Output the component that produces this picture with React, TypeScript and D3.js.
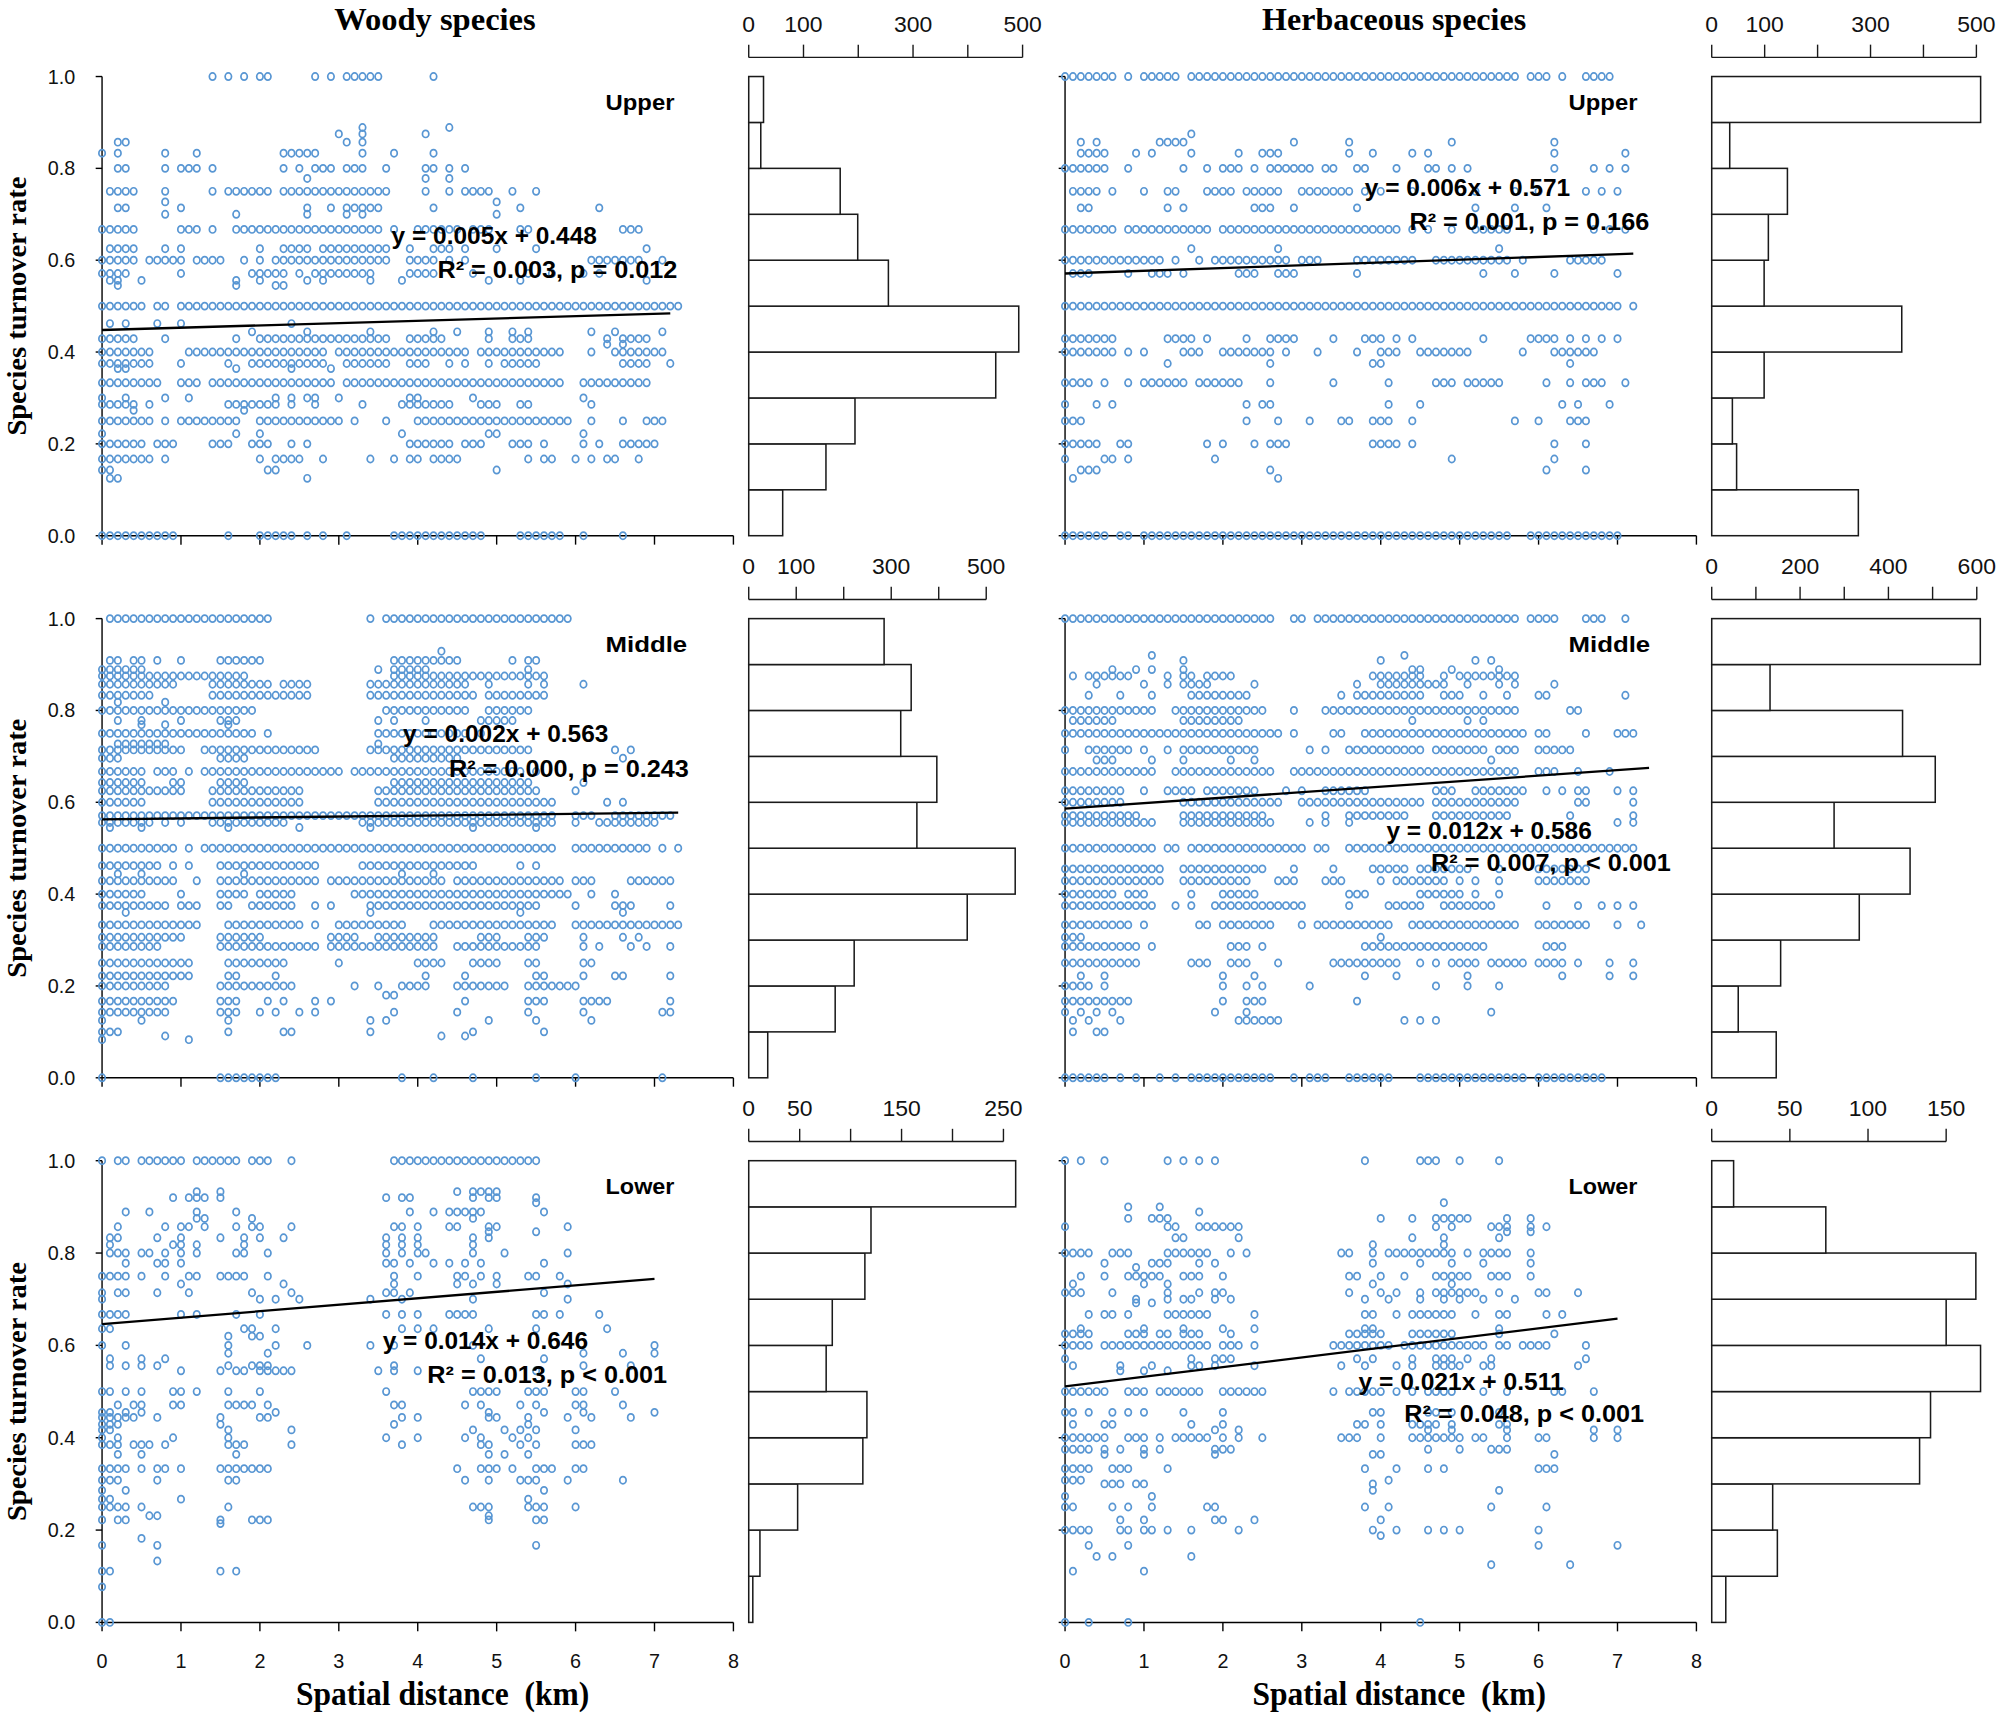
import React from "react";
import * as d3 from "d3";

// ---------------- DATA ----------------
// Scatter points: [turnover rate, "spatial distances in tenths of km"]
const woodyUpperPoints: [number, string][] = [
  [1.0, "14 16 18 20 21 27 29 31 32 33 34 35 42"],
  [0.889, "33 44"],
  [0.875, "30 33 41"],
  [0.857, "2 3 31 33"],
  [0.833, "0 2 8 12 23 24 25 26 27 33 37 42"],
  [0.8, "2 3 8 10 11 12 14 23 25 27 28 29 31 32 33 36 41 42 44 46"],
  [0.778, "26 41 44"],
  [0.75, "1 2 3 4 8 14 16 17 18 19 20 21 23 24 25 26 27 28 29 30 31 32 33 34 35 36 41 44 46 47 48 49 52 55"],
  [0.727, "8 50"],
  [0.714, "2 3 10 26 29 31 32 33 34 35 42 53 63"],
  [0.7, "8 17 26 31 33 50"],
  [0.667, "0 1 2 3 4 10 11 12 14 17 18 19 20 21 22 23 24 25 26 27 28 29 30 31 32 33 34 35 37 40 41 42 43 44 45 47 48 49 53 54 66 67 68"],
  [0.625, "1 2 3 4 8 10 20 23 24 25 26 28 29 30 31 32 33 34 35 36 39 42 43 44 46 50 55 69"],
  [0.6, "0 1 2 3 4 6 7 8 9 10 12 13 14 15 18 20 22 23 24 25 26 27 28 29 30 31 32 33 34 35 36 39 40 41 42 44 46 62 63 64 65 66 67 68 71"],
  [0.571, "0 1 2 3 10 19 20 21 22 23 25 27 28 29 30 31 32 33 34 39 40 41 42 47 54 57 61 63"],
  [0.556, "1 2 5 17 20 26 28 34 38 49 53 69"],
  [0.545, "2 17 22 23"],
  [0.5, "0 1 2 3 4 5 7 8 10 11 12 13 14 15 16 17 18 19 20 21 22 23 24 25 26 27 28 29 30 31 32 33 34 35 36 37 38 39 40 41 42 43 44 45 46 47 48 49 50 51 52 53 54 55 56 57 58 59 60 61 62 63 64 65 66 67 68 69 70 71 72 73"],
  [0.462, "1 3 7 10 24"],
  [0.444, "19 26 34 42 45 49 52 54 62 65 71"],
  [0.429, "0 1 2 3 4 8 17 20 21 22 23 24 25 26 27 28 29 30 31 32 33 34 35 36 39 40 41 42 43 49 52 53 54 64 66 67 68 69"],
  [0.417, "64 66"],
  [0.4, "0 1 2 3 4 5 6 11 12 13 14 15 16 17 18 19 20 21 22 23 24 25 26 27 28 30 31 32 33 34 35 36 37 38 39 40 41 42 43 44 45 46 48 49 50 51 52 53 54 55 56 57 58 62 65 66 67 68 69 70 71"],
  [0.375, "0 1 2 3 4 5 6 10 16 19 20 21 22 23 24 25 26 27 28 31 32 33 34 35 36 39 40 41 44 46 49 51 52 53 54 55 66 67 68 69 72"],
  [0.364, "2 3 17 24 29"],
  [0.333, "0 1 2 3 4 5 6 7 10 11 12 14 15 16 17 18 19 20 21 22 23 24 25 26 27 28 29 31 32 33 34 35 36 37 38 39 40 41 42 43 44 45 46 47 48 49 50 51 52 53 54 55 56 57 58 61 62 63 64 65 66 67 68 69"],
  [0.3, "0 3 8 11 22 24 26 27 30 39 40 47 61"],
  [0.286, "0 1 2 3 4 6 16 17 18 19 20 21 22 24 27 33 38 39 40 41 42 43 44 48 49 50 53 54 62"],
  [0.273, "4 18"],
  [0.25, "0 1 2 3 4 5 6 8 10 11 12 13 14 15 16 17 20 21 22 23 24 25 26 27 28 29 30 32 36 40 41 42 43 44 45 46 47 48 49 50 51 52 53 54 55 56 57 58 59 62 66 69 70 71"],
  [0.222, "0 17 20 38 49 50 61"],
  [0.2, "0 1 2 3 4 5 7 8 9 14 15 16 19 20 21 24 26 39 40 41 42 43 44 46 47 48 52 53 54 56 61 63 66 67 68 69 70"],
  [0.167, "0 1 2 3 4 5 6 8 20 22 23 24 25 28 34 37 39 40 42 43 44 45 54 56 57 60 62 64 65 68"],
  [0.143, "0 1 21 22 50"],
  [0.125, "1 2 26"],
  [0.0, "0 1 2 3 4 5 6 7 8 9 16 20 21 22 23 24 26 28 31 37 38 39 40 41 42 43 44 45 46 47 48 53 54 55 56 57 58 61 66"],
];

const herbUpperPoints: [number, string][] = [
  [1.0, "0 1 2 3 4 5 6 8 10 11 12 13 14 16 17 18 19 20 21 22 23 24 25 26 27 28 29 30 31 32 33 34 35 36 37 38 39 40 41 42 43 44 45 46 47 48 49 50 51 52 53 54 55 56 57 59 60 61 63 66 67 68 69"],
  [0.875, "16"],
  [0.857, "2 4 12 13 14 15 29 36 49 62"],
  [0.833, "2 3 4 5 9 11 16 22 25 26 27 36 39 44 46 62 71"],
  [0.8, "0 1 2 3 4 5 8 15 18 20 21 22 24 26 27 28 29 30 31 33 34 37 38 42 46 47 49 51 62 67 69 71"],
  [0.75, "1 2 3 4 6 10 13 14 18 19 20 21 23 24 25 26 27 30 31 32 33 34 35 36 38 40 44 52 57 60 66 68 70"],
  [0.714, "2 3 13 15 24 25 26 29 37 52 57 61"],
  [0.667, "0 1 2 3 4 5 6 8 9 10 11 12 13 14 15 16 17 18 20 21 22 23 24 25 26 27 28 29 30 31 32 33 34 35 36 37 38 39 40 41 42 44 46 49 52 53 54 55 56 67 69 71"],
  [0.625, "16 27 55"],
  [0.6, "0 1 2 3 4 5 6 7 8 9 10 11 12 14 17 19 20 21 22 23 24 25 26 27 28 30 31 32 37 38 39 40 41 42 43 44 47 48 49 50 51 52 53 54 55 56 58 64 65 66 67 68"],
  [0.571, "1 2 3 8 11 12 13 15 22 23 24 27 28 29 37 53 57 62 70"],
  [0.5, "0 1 2 3 4 5 6 7 8 9 10 11 12 13 14 15 16 17 18 19 20 21 22 23 24 25 26 27 28 29 30 31 32 33 34 35 36 37 38 39 40 41 42 43 44 45 46 47 48 49 50 51 52 53 54 55 56 57 58 59 60 61 62 63 64 65 66 67 68 69 70 72"],
  [0.429, "0 1 2 3 4 5 6 13 14 15 16 18 23 26 27 28 29 34 38 39 40 42 44 53 59 60 61 62 64 66 68 70"],
  [0.4, "0 1 2 3 4 5 6 8 10 15 16 17 20 21 22 23 24 25 26 28 32 37 40 41 42 45 46 47 48 49 50 51 58 62 63 64 65 66 67"],
  [0.375, "13 26 39 40 64"],
  [0.333, "0 1 2 3 5 8 10 11 12 13 14 15 17 18 19 20 21 22 26 34 41 47 48 49 51 52 53 54 55 61 64 66 67 68 71"],
  [0.286, "0 4 6 23 25 26 41 45 63 65 69"],
  [0.25, "0 1 2 23 27 31 35 36 39 40 41 44 57 60 64 65 66"],
  [0.2, "0 1 2 3 4 7 8 18 20 24 26 27 28 39 40 41 42 44 62 66"],
  [0.167, "0 5 6 8 19 49 62"],
  [0.143, "2 3 4 26 61 66"],
  [0.125, "1 27"],
  [0.0, "0 1 2 3 4 5 7 8 10 11 12 13 14 15 16 17 18 19 20 21 22 23 24 25 26 27 28 29 30 31 32 33 34 35 36 37 38 39 40 41 42 43 44 45 46 47 48 49 50 51 52 53 54 55 56 59 60 61 62 63 64 65 66 67 68 69 70"],
];

const woodyMiddlePoints: [number, string][] = [
  [1.0, "1 2 3 4 5 6 7 8 9 10 11 12 13 14 15 16 17 18 19 20 21 34 36 37 38 39 40 41 42 43 44 45 46 47 48 49 50 51 52 53 54 55 56 57 58 59"],
  [0.929, "43"],
  [0.909, "1 2 4 5 7 10 15 16 17 18 19 20 37 38 39 40 41 42 43 44 45 52 54 55"],
  [0.889, "0 1 2 3 4 5 35 37 38 39 40 41 54"],
  [0.875, "0 1 2 3 4 5 6 7 8 9 10 11 12 13 14 15 16 17 18 37 38 39 40 41 42 43 44 45 46 47 48 49 50 51 52 53 54 55 56"],
  [0.857, "0 1 2 3 4 5 6 7 8 9 14 15 16 17 18 19 20 21 23 24 25 26 34 35 36 37 38 39 40 41 42 43 44 45 46 49 54 56 61"],
  [0.833, "0 1 2 3 4 5 6 14 15 16 17 18 19 20 21 22 23 24 25 26 34 35 36 37 38 39 40 41 42 43 44 45 46 47 49 50 51 52 53 54 55 56"],
  [0.818, "2 8"],
  [0.8, "0 1 2 3 4 5 6 7 8 9 10 11 12 13 14 15 16 17 18 19 36 37 38 39 40 41 42 43 44 45 46 49 50 51 52 53 54"],
  [0.778, "2 5 10 15 16 17 35 37 41 48 49 50 51 52"],
  [0.769, "5 8 16"],
  [0.75, "0 1 2 3 4 5 6 7 8 9 10 11 12 13 14 15 16 17 18 19 21 35 36 37 38 39 40 41 42 43 44 45 46 48"],
  [0.727, "2 3 4 5 6 7 8 35"],
  [0.714, "0 1 2 3 4 5 6 7 8 9 10 13 14 15 16 17 18 19 20 21 22 23 24 25 26 27 34 35 36 37 38 39 40 41 42 43 44 45 46 47 48 49 50 51 52 53 54 65 67"],
  [0.696, "0 1 2 15 16 17 18 37 38 39 40 41 42 43 44 45 66"],
  [0.667, "0 1 2 3 4 5 7 8 9 11 13 14 15 16 17 18 19 20 21 22 23 24 25 26 27 28 29 30 32 33 34 35 36 37 38 39 40 41 42 43 44 45 46 47 48 49 50 51 52 53 55"],
  [0.643, "0 1 2 3 4 5 9 10 15 16 17 18 37 38 39 40 41 42 43 44 45 46 47 48 49 50 51 52 53 54 61"],
  [0.625, "0 1 2 3 4 5 6 7 8 9 10 14 15 16 17 18 19 20 21 22 23 24 25 35 36 37 38 39 40 41 42 43 44 45 46 47 48 49 50 51 52 53 54 55 60"],
  [0.6, "0 1 2 3 4 5 14 15 16 17 18 19 20 21 22 23 24 25 35 36 37 38 39 40 41 42 43 44 45 46 47 48 49 50 51 52 53 54 55 56 57 64 66"],
  [0.571, "0 1 2 3 4 5 6 7 8 9 10 11 12 13 14 15 16 17 18 19 20 21 22 23 24 25 26 27 28 29 30 31 32 33 34 35 36 37 38 39 40 41 42 43 44 45 46 47 48 49 50 51 52 53 54 55 56 57 60 61 62 65 66 67 68 69 70 71 72"],
  [0.556, "0 1 2 3 4 5 6 8 10 14 15 16 17 18 19 20 21 22 23 33 34 35 36 37 38 39 40 41 42 43 44 45 46 47 48 49 50 51 52 53 54 55 56 57 60 63 64 65 66 67 68 69 70"],
  [0.545, "1 5 16 25 34 47 55"],
  [0.5, "0 1 2 3 4 5 6 7 8 9 11 13 14 15 16 17 18 19 20 21 22 23 24 25 26 27 28 29 30 31 32 33 34 35 36 37 38 39 40 41 42 43 44 45 46 47 48 49 50 51 52 53 54 55 56 57 60 61 62 63 64 65 66 67 68 69 71 73"],
  [0.462, "0 1 2 3 4 5 6 7 9 11 15 16 17 18 19 20 21 22 23 24 25 26 27 33 34 35 36 37 38 39 40 41 42 43 44 45 46 47 53 55"],
  [0.444, "2 5 18 38 42"],
  [0.429, "0 1 2 3 4 5 6 7 8 9 12 15 16 17 18 19 20 21 22 23 24 25 26 27 29 30 31 32 33 34 35 36 37 38 39 40 41 42 43 45 46 47 48 49 50 51 52 53 54 55 56 57 58 60 61 62 67 68 69 70 71 72"],
  [0.4, "0 1 2 3 4 5 10 15 16 17 18 20 21 22 23 24 32 33 34 35 36 37 38 39 40 41 42 43 44 45 46 47 48 49 50 51 52 53 54 55 56 57 58 59 62 65"],
  [0.375, "0 1 2 3 4 5 6 7 8 10 11 12 15 16 19 20 21 22 23 24 27 29 34 35 36 37 38 39 40 41 42 43 44 45 46 47 48 49 50 51 52 53 54 55 60 65 66 67 72"],
  [0.36, "3 34 53 66"],
  [0.333, "0 1 2 3 4 5 6 7 8 9 10 11 12 16 17 18 19 20 21 22 23 24 25 27 30 31 32 33 34 35 36 37 38 42 43 44 45 46 47 48 49 50 51 52 53 54 55 56 57 60 61 62 63 64 65 66 67 68 69 70 71 72 73"],
  [0.306, "0 1 2 3 4 5 6 7 8 9 10 15 16 17 18 19 20 29 30 31 32 35 36 37 38 39 40 41 42 48 49 50 54 55 56 61 66 68"],
  [0.286, "0 1 2 3 4 5 6 7 15 16 17 18 19 20 21 22 23 24 25 26 27 29 30 31 32 33 34 35 36 37 38 39 40 41 42 45 46 47 48 49 50 51 52 53 54 55 61 63 67 69 72"],
  [0.25, "0 1 2 3 4 5 6 7 8 9 10 11 16 17 18 19 20 21 22 23 30 40 41 42 43 47 48 49 50 54 55 61 62"],
  [0.222, "0 1 2 3 4 5 6 7 8 9 10 11 16 17 22 41 46 55 56 61 65 66 72"],
  [0.2, "0 1 2 3 4 5 6 7 8 15 16 17 18 19 20 21 22 23 24 32 35 38 39 40 41 45 46 47 48 49 50 51 54 55 56 57 58 59 60"],
  [0.18, "36 37"],
  [0.167, "0 1 2 3 4 5 6 7 8 9 15 16 17 21 23 27 29 46 54 55 56 61 62 63 64 72"],
  [0.143, "0 1 2 3 4 5 6 7 8 15 16 17 20 22 25 27 37 45 54 61 71 72"],
  [0.125, "0 5 16 34 36 49 55 62"],
  [0.1, "0 1 2 16 23 24 34 47 56"],
  [0.091, "8 43 46"],
  [0.083, "0 11"],
  [0.0, "0 15 16 17 18 19 20 21 22 38 42 47 55 60 71"],
];

const herbMiddlePoints: [number, string][] = [
  [1.0, "0 1 2 3 4 5 6 7 8 9 10 11 12 13 14 15 16 17 18 19 20 21 22 23 24 25 26 29 30 32 33 34 35 36 37 38 39 40 41 42 43 44 45 46 47 48 49 50 51 52 53 54 55 56 57 59 60 61 62 66 67 68 71"],
  [0.92, "11 43"],
  [0.909, "15 40 52 54"],
  [0.889, "6 9 11 15 44 45 49 55"],
  [0.875, "1 3 4 5 6 7 8 13 15 16 18 19 20 21 39 40 41 42 43 44 45 48 50 51 52 53 54 55 56 57"],
  [0.857, "4 10 13 15 16 17 18 24 37 40 41 42 43 44 45 46 47 48 51 55 57 62"],
  [0.833, "3 7 11 16 17 18 19 20 21 22 23 35 37 38 39 40 41 42 43 44 45 48 49 50 53 56 60 61 71"],
  [0.8, "0 1 2 3 4 5 6 7 8 9 10 11 14 15 16 17 18 19 20 21 22 23 24 25 29 33 34 35 36 37 38 39 40 41 42 43 44 45 46 47 48 49 50 51 52 53 54 55 56 57 64 65"],
  [0.778, "1 2 3 4 5 6 15 16 17 18 19 20 21 22 44 51 53"],
  [0.75, "0 1 2 3 4 5 6 7 8 9 10 11 12 13 14 15 16 17 18 19 20 21 22 23 24 25 26 27 29 34 35 38 39 40 41 42 43 44 45 46 47 48 49 50 51 52 53 54 55 56 57 58 60 61 66 70 71 72"],
  [0.714, "0 3 4 5 6 7 8 10 13 15 16 17 18 19 20 21 22 23 24 31 33 36 37 38 39 40 41 42 43 44 45 47 48 49 50 51 52 53 55 56 57 60 61 62 63 64"],
  [0.692, "4 5 6 11 15 21 24 54"],
  [0.667, "0 1 2 3 4 5 6 7 8 9 10 11 14 15 16 17 18 19 20 21 22 23 24 25 26 29 30 31 32 33 34 35 36 37 38 39 40 41 42 43 44 45 46 47 48 49 50 51 52 53 54 55 56 57 60 61 62 65 69"],
  [0.625, "0 1 2 3 4 5 6 7 10 13 14 15 16 18 19 20 21 22 23 24 28 30 33 34 35 36 37 38 47 48 49 52 53 54 55 56 57 58 61 63 65 66 70 72"],
  [0.6, "0 1 2 3 4 5 6 7 15 16 17 18 19 20 21 22 23 24 25 26 27 30 31 32 33 34 35 36 37 38 39 40 41 42 43 44 45 47 48 49 50 51 52 53 54 55 56 57 65 66 72"],
  [0.571, "0 1 2 3 4 5 6 7 8 9 15 16 17 18 19 20 21 22 23 24 25 33 36 37 38 39 40 41 42 43 47 48 49 50 51 52 53 54 55 56 64 72"],
  [0.556, "0 1 2 3 4 5 6 7 8 9 10 11 15 16 17 18 19 20 21 22 23 24 25 26 31 33 36 70 72"],
  [0.5, "0 1 2 3 4 5 6 7 8 9 10 11 13 14 16 17 18 19 20 21 22 23 24 25 26 27 28 29 30 32 33 36 37 38 39 40 41 42 43 44 45 46 47 48 49 50 51 52 53 54 55 56 57 58 59 60 61 62 63 64 65 66 67 68 69 70 71 72"],
  [0.455, "0 1 2 3 4 5 6 7 8 9 10 11 12 15 16 17 18 19 20 21 22 23 24 25 29 34 39 40 41 42 43 45 46 47 48 49 50 51 55 60 61 62 63 64 65 66"],
  [0.429, "0 1 2 3 4 5 6 7 8 9 10 11 12 15 16 17 18 19 20 21 22 23 27 28 29 33 34 35 40 42 43 44 45 46 47 48 50 52 55 60 61 62 63 64 65 66"],
  [0.4, "0 1 2 3 4 5 6 8 9 10 16 20 21 22 23 24 36 37 38 45 46 47 48 49 50 52 55"],
  [0.375, "0 1 2 3 4 5 6 7 8 9 10 11 14 16 19 20 21 22 23 24 25 26 27 28 29 30 36 41 42 43 44 45 48 49 50 51 52 53 54 61 65 68 70 72"],
  [0.333, "0 1 2 3 4 5 6 7 8 10 17 18 20 21 22 23 24 25 26 30 32 33 34 35 36 37 38 39 40 41 44 45 46 47 48 49 50 51 52 53 54 55 56 57 60 61 62 63 64 65 66 70 73"],
  [0.306, "0 1 2 40"],
  [0.286, "0 1 2 3 4 5 6 7 8 9 11 21 22 23 25 38 39 40 41 42 43 44 45 46 47 48 49 50 51 52 53 61 62 63"],
  [0.25, "0 1 2 3 4 5 6 7 8 9 16 17 18 21 22 23 27 34 35 36 37 38 39 40 41 42 45 47 49 50 51 52 54 55 56 57 58 60 61 62 63 65 69 72"],
  [0.222, "2 5 20 24 38 42 51 63 69 72"],
  [0.2, "0 1 2 3 5 20 23 25 31 47 51 55"],
  [0.167, "0 1 2 3 4 5 6 7 8 20 23 24 25 37"],
  [0.143, "0 2 4 6 19 23 54"],
  [0.125, "1 3 7 22 23 24 25 26 27 43 45 47"],
  [0.1, "1 4 5"],
  [0.0, "0 1 2 3 4 5 7 9 12 14 16 17 18 19 20 21 22 23 24 25 26 29 31 32 33 36 37 38 39 40 41 45 46 47 48 49 50 51 52 53 54 55 56 57 58 60 61 62 63 64 65 66 67 68"],
];

const woodyLowerPoints: [number, string][] = [
  [1.0, "0 2 3 5 6 7 8 9 10 12 13 14 15 16 17 19 20 21 24 37 38 39 40 41 42 43 44 45 46 47 48 49 50 51 52 53 54 55"],
  [0.933, "12 15 45 47 48 49 50"],
  [0.92, "9 11 12 13 15 36 38 39 47 49 50 55"],
  [0.909, "55"],
  [0.889, "3 6 12 17 39 42 44 45 46 47 48 56"],
  [0.875, "12 13 19 47"],
  [0.857, "2 8 10 11 13 17 19 20 24 37 38 40 44 45 49 50 59"],
  [0.846, "49 55"],
  [0.833, "1 2 7 10 15 18 20 23 36 38 40 47 49"],
  [0.818, "1 9 10 12 18 36 38 40 47"],
  [0.8, "1 2 3 5 6 8 10 12 17 18 21 36 38 40 41 47 51 59"],
  [0.778, "3 7 8 10 36 37 39 42 44 46 48 56"],
  [0.75, "0 1 2 3 5 8 11 12 15 16 17 18 21 37 40 45 46 48 50 54 55 58"],
  [0.733, "10 23 37 45 47 50 59"],
  [0.714, "0 2 3 7 11 19 24 36 37 39 56"],
  [0.7, "0 20 22 25 34 38 47 59"],
  [0.667, "0 1 2 3 10 12 17 20 36 38 40 44 45 46 47 55 56 58 63"],
  [0.636, "0 1 18 19 22 38 40 42 49 55 64"],
  [0.62, "16 19 20"],
  [0.6, "0 3 16 22 26 34 37 47 70"],
  [0.583, "16 21 61 66 70"],
  [0.571, "1 5 8 48 56"],
  [0.556, "1 3 5 7 16 19 20 21 37 61 67"],
  [0.545, "10 15 17 18 20 21 22 23 24 35 37 40 55"],
  [0.5, "0 1 3 5 9 10 12 16 20 36 47 48 49 50 54 55 56 60 61 65"],
  [0.471, "2 4 5 9 10 16 17 18 19 21 37 38 46 48 53 55 60 61 66"],
  [0.455, "0 1 3 5 22 49 56 61 70"],
  [0.444, "0 1 2 3 4 7 15 20 21 38 40 49 50 54 59 62 67"],
  [0.429, "0 1 2 15 37 54"],
  [0.417, "0 1 16 24 47 51 53 55 60"],
  [0.4, "0 2 9 16 36 40 46 48 52 54"],
  [0.385, "0 1 2 4 5 6 8 16 17 18 24 38 48 49 53 55 60 61 62"],
  [0.364, "2 5 17 49 51 54"],
  [0.333, "0 1 2 3 5 7 8 10 15 16 17 18 19 20 21 45 48 49 50 52 55 56 57 60 61"],
  [0.308, "0 1 2 7 16 17 46 49 53 54 55 59 66"],
  [0.286, "0 3 56"],
  [0.267, "0 1 10 54"],
  [0.25, "0 1 2 3 5 16 47 48 49 54 55 56 60"],
  [0.231, "6 7 49"],
  [0.222, "0 2 3 15 19 20 21 49 55 56"],
  [0.214, "15"],
  [0.182, "5"],
  [0.167, "0 7 55"],
  [0.133, "7"],
  [0.111, "0 1 15 17"],
  [0.077, "0"],
  [0.0, "0 1"],
];

const herbLowerPoints: [number, string][] = [
  [1.0, "0 2 5 13 15 17 19 38 45 46 47 50 55"],
  [0.909, "48"],
  [0.9, "8 12"],
  [0.889, "17"],
  [0.875, "8 11 12 13 40 44 47 48 49 50 51 56 59"],
  [0.857, "0 13 14 17 18 19 20 21 22 47 49 54 55 56 59 61"],
  [0.846, "56 59"],
  [0.833, "14 15 22 44 48 55"],
  [0.818, "39 48"],
  [0.8, "0 1 2 3 6 7 8 13 14 15 16 17 18 21 23 35 36 39 41 42 43 44 45 46 47 48 49 51 53 54 55 56 59"],
  [0.778, "5 11 12 13 17 19 39 45 49 53 59"],
  [0.769, "9"],
  [0.75, "2 5 8 9 10 11 12 15 16 17 20 36 37 40 43 47 48 49 50 51 54 55 56 59"],
  [0.733, "1 10 13 39 49"],
  [0.714, "0 1 2 6 13 17 19 20 36 40 42 45 47 48 49 50 51 52 55 60 61 65"],
  [0.7, "9 13 15 16 19 21 38 41 45 48 50 53 57"],
  [0.692, "9 11"],
  [0.667, "3 5 6 8 13 14 15 16 17 18 24 38 39 42 44 45 46 47 48 49 52 55 56 61 63"],
  [0.636, "2 10 15 20 24 38 39 55"],
  [0.625, "0 1 2 3 8 9 10 12 13 15 16 17 21 36 37 38 39 40 44 45 46 47 48 49 55 62"],
  [0.6, "0 1 2 3 5 6 7 8 9 10 11 12 13 14 15 16 17 18 20 21 22 24 34 35 36 37 38 39 40 41 43 44 45 46 47 48 49 50 51 52 53 55 56 58 59 60 61 66"],
  [0.571, "0 16 19 20 21 37 39 44 47 48 49 51 54 66"],
  [0.556, "1 7 11 16 17 19 24 35 38 42 44 47 48 49 50 53 54 65"],
  [0.545, "7 10 13"],
  [0.5, "0 1 2 3 4 5 8 9 10 12 13 14 15 16 17 20 21 22 23 24 25 34 36 37 38 39 40 42 44 46 47 48 49 53 56 62 63 67"],
  [0.455, "0 1 3 6 8 10 15 20 39 40 46 47 49 55"],
  [0.429, "1 5 6 16 20 37 38 40 44 45 46 47 49 55 56"],
  [0.417, "19 22 46 49 56 67 70"],
  [0.4, "0 1 2 3 4 5 8 9 10 12 14 15 16 17 18 20 22 25 35 36 37 40 44 45 46 47 48 49 50 52 53 56 60 61 67 70"],
  [0.375, "0 1 2 3 5 7 10 12 19 20 21 46 50 54 55 56"],
  [0.364, "5 10 19 39 40 62"],
  [0.333, "0 1 2 3 6 7 8 13 38 42 46 48 60 61 62"],
  [0.308, "0 1 2 41"],
  [0.3, "5 6 7 9 10 39"],
  [0.286, "39 55"],
  [0.273, "0 11"],
  [0.25, "0 1 6 8 11 18 19 38 41 54 61"],
  [0.222, "7 10 19 20 24 40"],
  [0.2, "0 1 2 3 7 8 10 11 13 16 22 39 42 46 48 50 60"],
  [0.188, "40"],
  [0.167, "3 8 60 70"],
  [0.143, "4 6 16"],
  [0.125, "54 64"],
  [0.111, "1 10"],
  [0.0, "0 3 8 45"],
];

// Histogram counts, bins 0.0-0.1 ... 0.9-1.0
const woodyUpperHist = [62, 141, 194, 451, 493, 255, 199, 167, 22, 27];
const woodyMiddleHist = [40, 182, 222, 460, 561, 354, 396, 320, 342, 285];
const woodyLowerHist = [4, 11, 48, 112, 116, 76, 82, 114, 120, 262];
const herbUpperHist = [277, 47, 39, 99, 359, 99, 107, 143, 34, 508];
const herbMiddleHist = [146, 60, 156, 334, 449, 277, 506, 432, 132, 608];
const herbLowerHist = [9, 42, 39, 133, 140, 172, 150, 169, 73, 14];

// Histogram axes
const woodyHistAxisMax = [500, 500, 250];
const herbHistAxisMax = [500, 600, 150];
const woodyHistTickStep = [100, 100, 50];
const herbHistTickStep = [100, 100, 50];
const woodyHistLabels = [[0, 100, 300, 500], [0, 100, 300, 500], [0, 50, 150, 250]];
const herbHistLabels = [[0, 100, 300, 500], [0, 200, 400, 600], [0, 50, 100, 150]];

// Regression fits
const woodySlopes = [0.005, 0.002, 0.014];
const woodyIntercepts = [0.448, 0.563, 0.646];
const woodyFitEnd = [7.2, 7.3, 7.0];
const woodyR2 = ["0.003", "0.000", "0.013"];
const woodyP = ["= 0.012", "= 0.243", "< 0.001"];
const herbSlopes = [0.006, 0.012, 0.021];
const herbIntercepts = [0.571, 0.586, 0.511];
const herbFitEnd = [7.2, 7.4, 7.0];
const herbR2 = ["0.001", "0.007", "0.048"];
const herbP = ["= 0.166", "< 0.001", "< 0.001"];

const zoneNames = ["Upper", "Middle", "Lower"];
const groupTitles = ["Woody species", "Herbaceous species"];
const xTicks = [0, 1, 2, 3, 4, 5, 6, 7, 8];
const yTicks = [0, 0.2, 0.4, 0.6, 0.8, 1.0];

// ---------------- LAYOUT ----------------
const VW = 1568;
const VH = 1348.5;
const colX = [80, 835];
const plotW = 495;
const rowTop = [60, 485, 910];
const rowBot = [420, 845, 1272];
const histX = [587, 1342];
const histW = [
  [214.7, 186.2, 199.7],
  [207.5, 207.8, 183.8],
];
// equation positions [x1, y1, x2, y2]
const eqPos = [
  [[307, 191, 343, 218], [316, 582, 352, 609], [300, 1058, 335, 1084]],
  [[1070, 154, 1105, 180], [1087, 658, 1122, 683], [1065, 1090, 1101, 1115]],
];

const BLUE = "#5896D3";
const SANS = "'Liberation Sans', Arial, sans-serif";
const SERIF = "'Liberation Serif', 'Times New Roman', serif";

const parseXs = (s: string) => s.trim().split(/\s+/).map((t) => +t / 10);

function Panel({ col, row }: { col: number; row: number }) {
  const woody = col === 0;
  const pts = woody
    ? [woodyUpperPoints, woodyMiddlePoints, woodyLowerPoints][row]
    : [herbUpperPoints, herbMiddlePoints, herbLowerPoints][row];
  const hist = woody
    ? [woodyUpperHist, woodyMiddleHist, woodyLowerHist][row]
    : [herbUpperHist, herbMiddleHist, herbLowerHist][row];
  const axisMax = (woody ? woodyHistAxisMax : herbHistAxisMax)[row];
  const tickStep = (woody ? woodyHistTickStep : herbHistTickStep)[row];
  const labels = (woody ? woodyHistLabels : herbHistLabels)[row];
  const slope = (woody ? woodySlopes : herbSlopes)[row];
  const icpt = (woody ? woodyIntercepts : herbIntercepts)[row];
  const fitEnd = (woody ? woodyFitEnd : herbFitEnd)[row];
  const r2 = (woody ? woodyR2 : herbR2)[row];
  const p = (woody ? woodyP : herbP)[row];

  const x = d3.scaleLinear().domain([0, 8]).range([colX[col], colX[col] + plotW]);
  const y = d3.scaleLinear().domain([0, 1]).range([rowBot[row], rowTop[row]]);
  const hx = d3.scaleLinear().domain([0, axisMax]).range([histX[col], histX[col] + histW[col][row]]);
  const histTicks = d3.range(0, axisMax + 0.001, tickStep);

  const marks: JSX.Element[] = [];
  pts.forEach(([yv, s], i) => {
    parseXs(s).forEach((xv, j) => {
      marks.push(
        <ellipse key={`${i}-${j}`} cx={x(xv)} cy={y(yv)} rx={2.5} ry={2.8} fill="none" stroke={BLUE} strokeWidth={1.35} />
      );
    });
  });

  const line = d3.line<[number, number]>().x((d) => x(d[0])).y((d) => y(d[1]));
  const fitPath = line([
    [0, icpt],
    [fitEnd, icpt + slope * fitEnd],
  ]) as string;

  const axisY = rowTop[row] - 15;
  const [ex1, ey1, ex2, ey2] = eqPos[col][row];

  return (
    <g>
      {/* axes */}
      <line x1={x(0)} x2={x(0)} y1={y(0)} y2={y(1)} stroke="#000" strokeWidth={1.1} />
      <line x1={x(0)} x2={x(8)} y1={y(0)} y2={y(0)} stroke="#000" strokeWidth={1.1} />
      {yTicks.map((t) => (
        <line key={"yt" + t} x1={x(0) - 5} x2={x(0)} y1={y(t)} y2={y(t)} stroke="#000" strokeWidth={1.1} />
      ))}
      {xTicks.map((t) => (
        <line key={"xt" + t} x1={x(t)} x2={x(t)} y1={y(0)} y2={y(0) + 7} stroke="#000" strokeWidth={1.1} />
      ))}
      {col === 0 &&
        yTicks.map((t) => (
          <text key={"yl" + t} x={x(0) - 21} y={y(t) + 5.5} textAnchor="end" fontFamily={SANS} fontSize={15.5} fill="#111">
            {t.toFixed(1)}
          </text>
        ))}
      {row === 2 &&
        xTicks.map((t) => (
          <text key={"xl" + t} x={x(t)} y={y(0) + 36} textAnchor="middle" fontFamily={SANS} fontSize={15.5} fill="#111">
            {t}
          </text>
        ))}
      {/* points */}
      {marks}
      {/* regression line */}
      <path d={fitPath} stroke="#000" strokeWidth={1.8} fill="none" />
      {/* labels */}
      <text x={x(6.38)} y={rowTop[row] + 26} fontFamily={SANS} fontWeight="bold" fontSize={17.5}
        textLength={row === 1 ? 64 : 54} lengthAdjust="spacingAndGlyphs" fill="#000">
        {zoneNames[row]}
      </text>
      <text x={ex1} y={ey1} fontFamily={SANS} fontWeight="bold" fontSize={18.5} textLength={161}
        lengthAdjust="spacingAndGlyphs" fill="#000">
        {`y = ${slope.toFixed(3)}x + ${icpt.toFixed(3)}`}
      </text>
      <text x={ex2} y={ey2} fontFamily={SANS} fontWeight="bold" fontSize={18.5} textLength={188}
        lengthAdjust="spacingAndGlyphs" fill="#000">
        {`R² = ${r2}, p ${p}`}
      </text>
      {/* histogram */}
      {hist.map((v, i) => (
        <rect key={"h" + i} x={hx(0)} y={y((i + 1) / 10)} width={hx(v) - hx(0)} height={y(i / 10) - y((i + 1) / 10)}
          fill="#fff" stroke="#1a1a1a" strokeWidth={1.2} />
      ))}
      <line x1={hx(0)} x2={hx(axisMax)} y1={axisY} y2={axisY} stroke="#1a1a1a" strokeWidth={1.1} />
      {histTicks.map((t) => (
        <line key={"ht" + t} x1={hx(t)} x2={hx(t)} y1={axisY} y2={axisY - 10} stroke="#1a1a1a" strokeWidth={1.1} />
      ))}
      {labels.map((t) => (
        <text key={"hl" + t} x={hx(t)} y={axisY - 20} textAnchor="middle" fontFamily={SANS} fontSize={18} fill="#111">
          {t}
        </text>
      ))}
    </g>
  );
}

export default function App() {
  const cols = [0, 1];
  const rows = [0, 1, 2];
  return (
    <svg width={2000} height={1720} viewBox={`0 0 ${VW} ${VH}`} style={{ position: "absolute", left: 0, top: 0 }}>
      <rect x={0} y={0} width={VW} height={VH} fill="#fff" />
      {cols.map((c) => rows.map((r) => <Panel key={`${c}-${r}`} col={c} row={r} />))}
      {groupTitles.map((t, c) => (
        <text key={t} x={c === 0 ? 341 : 1093} y={23.5} textAnchor="middle" fontFamily={SERIF} fontWeight="bold"
          fontSize={25} textLength={c === 0 ? 158 : 207} lengthAdjust="spacingAndGlyphs" fill="#000">
          {t}
        </text>
      ))}
      {cols.map((c) => (
        <text key={"xlab" + c} x={c === 0 ? 347 : 1097} y={1337} textAnchor="middle" fontFamily={SERIF}
          fontWeight="bold" fontSize={26} textLength={230} lengthAdjust="spacingAndGlyphs" fill="#000"
          style={{ whiteSpace: "pre" }}>
          {"Spatial distance  (km)"}
        </text>
      ))}
      {rows.map((r) => (
        <text key={"ylab" + r} transform={`translate(20,${(rowTop[r] + rowBot[r]) / 2}) rotate(-90)`}
          textAnchor="middle" fontFamily={SERIF} fontWeight="bold" fontSize={21.5} textLength={203}
          lengthAdjust="spacingAndGlyphs" fill="#000">
          Species turnover rate
        </text>
      ))}
    </svg>
  );
}
